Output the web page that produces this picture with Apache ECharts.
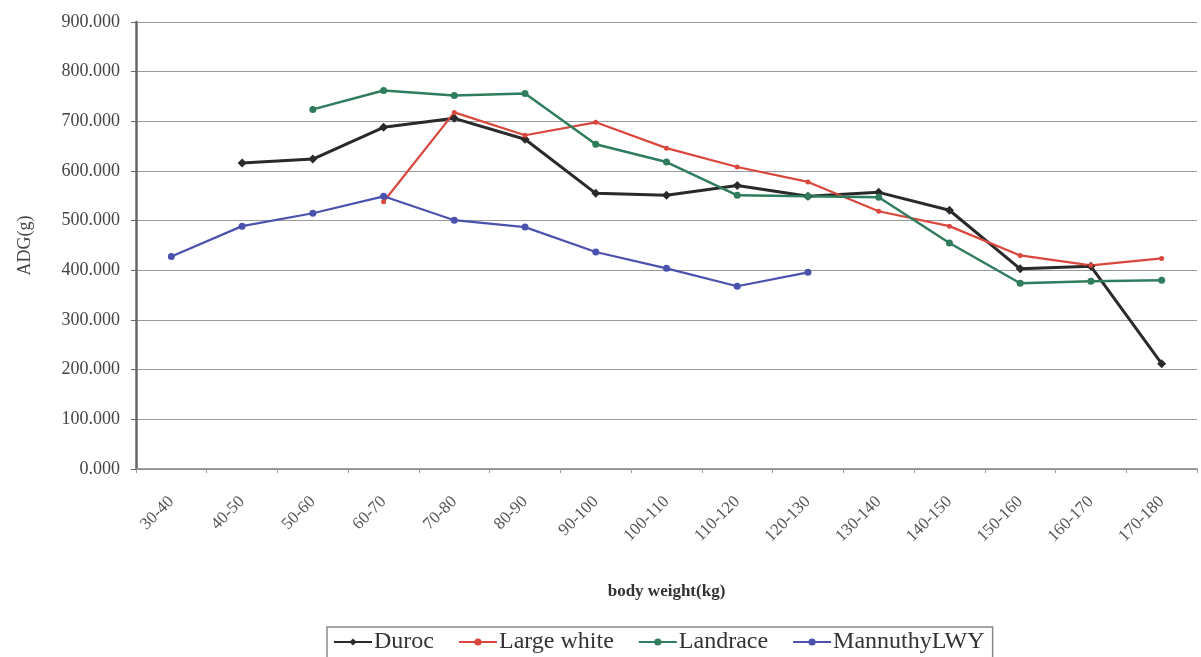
<!DOCTYPE html>
<html>
<head>
<meta charset="utf-8">
<script src="https://cdn.jsdelivr.net/npm/echarts@6/dist/echarts.min.js"></script>
<style>
  html, body { margin: 0; padding: 0; background: #fff; overflow: hidden; }
  #chart { width: 1201px; height: 657px; }
</style>
</head>
<body>
<div id="chart"></div>
<script>
// Body weight classes (kg)
const categories = ['30-40', '40-50', '50-60', '60-70', '70-80', '80-90', '90-100', '100-110',
  '110-120', '120-130', '130-140', '140-150', '150-160', '160-170', '170-180'];

// Average daily gain (g) per breed; null where no data
const duroc = [null, 616, 624, 688, 706, 664, 555, 551, 571, 549, 557, 521, 403, 408, 212];
const largeWhite = [null, null, null, 538, 718, 672, 698, 646, 608, 578, 519, 489, 430, 410, 424];
const landrace = [null, null, 724, 762, 752, 756, 654, 618, 551, 549, 547, 455, 374, 378, 380];
const mannuthy = [428, 489, 515, 549, 501, 487, 437, 404, 368, 396, null, null, null, null, null];

const yTicks = { min: 0, max: 900, interval: 100 };

const serif = '"Liberation Serif", "DejaVu Serif", serif';

function line(name, data, color, symbol, size, width) {
  return {
    name, type: 'line', data,
    symbol, symbolSize: size,
    lineStyle: { color, width },
    itemStyle: { color },
    connectNulls: false,
    animation: false
  };
}

const chart = echarts.init(document.getElementById('chart'));
chart.setOption({
  backgroundColor: '#fff',
  animation: false,
  grid: { left: 136, right: 4, top: 22, bottom: 188, containLabel: false },
  xAxis: {
    type: 'category',
    data: categories,
    boundaryGap: true,
    name: 'body weight(kg)',
    nameLocation: 'middle',
    nameGap: 114,
    nameTextStyle: { fontFamily: serif, fontSize: 17, color: '#333', fontWeight: 'bold' },
    axisLine: { lineStyle: { color: '#888', width: 1.5 } },
    axisTick: { show: true, length: 4, lineStyle: { color: '#999' } },
    axisLabel: { rotate: 45, margin: 30, fontFamily: serif, fontSize: 17, color: '#555' },
    splitLine: { show: false }
  },
  yAxis: {
    type: 'value',
    min: yTicks.min, max: yTicks.max, interval: yTicks.interval,
    name: 'ADG(g)',
    nameLocation: 'middle',
    nameGap: 102,
    nameTextStyle: { fontFamily: serif, fontSize: 18, color: '#444' },
    axisLine: { show: true, lineStyle: { color: '#666', width: 2.5 } },
    axisTick: { show: true, length: 5, lineStyle: { color: '#666' } },
    axisLabel: {
      fontFamily: serif, fontSize: 18, color: '#444', margin: 16,
      formatter: v => v.toFixed(3)
    },
    splitLine: { show: true, lineStyle: { color: '#9a9a9a', width: 1.2 } }
  },
  legend: {
    top: 627,
    left: 327,
    itemWidth: 38, itemHeight: 9,
    itemGap: 24,
    padding: [3, 8, 12, 6],
    borderColor: '#888', borderWidth: 1.5,
    textStyle: { fontFamily: serif, fontSize: 24, color: '#333', padding: [0, 0, 0, -3] },
    data: ['Duroc', 'Large white', 'Landrace', 'MannuthyLWY']
  },
  series: [
    line('Duroc', duroc, '#2a2a2a', 'diamond', 9, 3),
    line('Large white', largeWhite, '#d9473d', 'circle', 5, 2.2),
    line('Landrace', landrace, '#2f7d5c', 'circle', 7, 2.5),
    line('MannuthyLWY', mannuthy, '#4b52ad', 'circle', 7, 2.2)
  ]
});
</script>
</body>
</html>
